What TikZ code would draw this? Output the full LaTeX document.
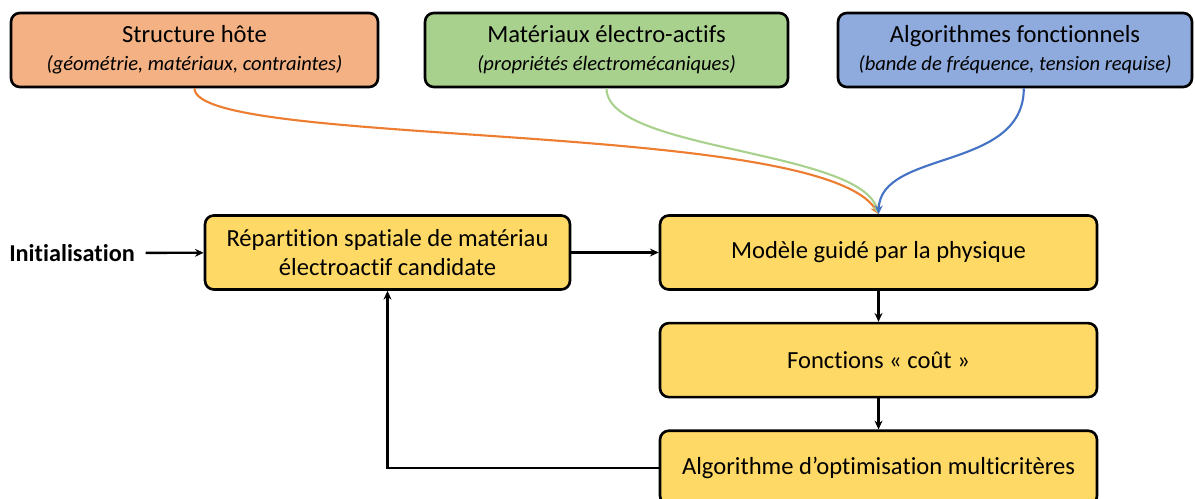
\documentclass[tikz,border=0pt]{standalone}
\usepackage{fontspec}
\setmainfont{Carlito}[Ligatures=NoCommon]
\usetikzlibrary{arrows.meta,positioning}
\definecolor{hostfill}{HTML}{F4B183}
\definecolor{hostline}{HTML}{ED7D31}
\definecolor{matfill}{HTML}{A9D18E}
\definecolor{algofill}{HTML}{8FAADC}
\definecolor{algoline}{HTML}{4472C4}
\definecolor{stepfill}{HTML}{FFD966}
\newcommand{\subtxt}[1]{{\fontsize{11.7}{15}\selectfont\itshape #1}}

\begin{document}
\begin{tikzpicture}[
      x=0.02cm, y=-0.02cm,
      font=\fontsize{14}{16}\selectfont,
      box/.style={rounded corners=5pt, draw=black, line width=1.5pt, inner sep=2pt, align=center, minimum height=1.48cm},
      srcbox/.style={box, fill=#1},
      stepbox/.style={box, fill=stepfill, minimum width=8.74cm},
      arr/.style={-{Stealth[length=5pt,width=4.5pt]}, line width=1.3pt},
      link/.style={-{Stealth[length=5pt,width=4.5pt]}, line width=1.2pt, draw=#1}
    ]
      \useasboundingbox (0,0) rectangle (1195,498);
      % sources
      \node[srcbox=hostfill, minimum width=7.34cm] (host) at (194.5,50) {Structure hôte\\\subtxt{(géométrie, matériaux, contraintes)}};
      \node[srcbox=matfill, minimum width=7.26cm] (mat) at (606.5,50) {Matériaux électro-actifs\\\subtxt{(propriétés électromécaniques)}};
      \node[srcbox=algofill, minimum width=7.08cm] (algo) at (1015,50) {Algorithmes fonctionnels\\\subtxt{(bande de fréquence, tension requise)}};
      % loop
      \node[box, fill=stepfill, minimum width=7.3cm] (repart) at (387.5,252.5) {Répartition spatiale de matériau\\électroactif candidate};
      \node[stepbox] (model) at (878.5,252.5) {Modèle guidé par la physique};
      \node[stepbox, below=0.62cm of model] (cost) {Fonctions « coût »};
      \node[stepbox, below=0.62cm of cost] (optim) {Algorithme d’optimisation multicritères};
      \node[font=\fontsize{13.8}{16}\selectfont\bfseries, inner xsep=6pt] (init) at (72,253) {Initialisation};
      \draw[arr] (init) -- (repart);
      \draw[arr] (repart) -- (model);
      \draw[arr] (model) -- (cost);
      \draw[arr] (cost) -- (optim);
      \draw[arr] (optim.west) -| (repart.south);
      % inputs to the model
      \draw[link=hostline] (host.south) .. controls +(0,60) and +(-58,-95) .. (model.north);
      \draw[link=matfill] (mat.south) .. controls +(0,63) and +(-18,-65) .. (model.north);
      \draw[link=algoline] ([xshift=5]algo.south) .. controls +(0,83) and +(2,-65) .. (model.north);
    \end{tikzpicture}
\end{document}
